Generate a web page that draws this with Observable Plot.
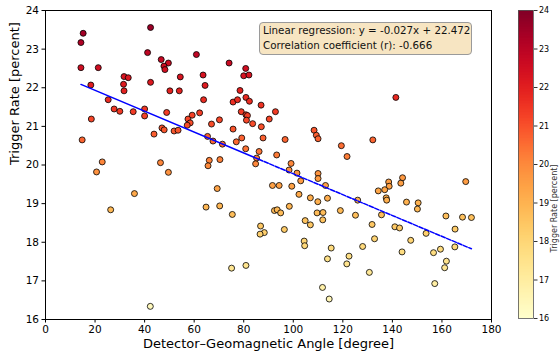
<!DOCTYPE html>
<html><head><meta charset="utf-8">
<script src="https://cdn.jsdelivr.net/npm/d3@7"></script>
<script src="https://cdn.jsdelivr.net/npm/@observablehq/plot@0.6"></script>
<style>
body{margin:0;background:#fff;font-family:"DejaVu Sans",sans-serif;}
#wrap{position:relative;width:560px;height:358px;overflow:hidden;}
#main{position:absolute;left:0;top:0;}
#cb{position:absolute;left:490px;top:0;}
#box{position:absolute;left:259px;top:22px;width:213px;height:33px;box-sizing:border-box;
 border:1px solid #9a9a9a;border-radius:4px;background:rgba(245,222,179,0.8);
 font-family:"DejaVu Sans",sans-serif;font-size:10.3px;line-height:15px;padding:0 0 0 3px;color:#111;white-space:nowrap;}
</style></head><body>
<div id="wrap"><div id="main"></div><div id="cb"></div><div id="box"></div></div>
<script>
const angle = [
15.2,14.3,42.4,41.2,60.9,46.7,49.6,47.8,48.2,14.3,
21.3,31.7,33.4,54.4,42.4,31.5,18.3,31.7,50.2,54.0,
25.3,27.7,30.0,35.4,40.0,40.0,48.9,18.5,57.5,59.2,
62.2,14.8,43.8,47.0,47.9,51.9,53.5,58.4,57.2,22.9,
20.6,46.4,49.6,35.9,26.3,42.3,74.1,80.8,80.0,82.1,
63.6,64.4,78.5,63.8,75.7,77.5,80.9,82.3,87.0,79.0,
80.9,81.5,92.8,70.2,81.1,90.3,67.0,83.6,87.1,75.7,
79.2,77.0,65.4,67.6,71.4,87.8,96.7,108.4,109.3,110.0,
119.4,121.7,80.8,86.2,93.3,85.2,84.8,66.1,65.6,70.4,
99.1,98.3,101.5,103.0,110.0,110.0,113.0,91.6,94.3,99.4,
69.3,102.3,106.9,109.9,113.8,64.8,70.3,98.4,92.4,93.5,
94.9,75.4,109.6,112.0,119.0,111.9,104.8,106.9,86.8,88.3,
86.6,96.4,104.4,104.6,115.3,113.8,121.6,122.5,75.1,80.9,
111.8,114.5,141.4,132.1,144.1,138.5,138.7,143.4,136.9,134.3,
169.6,137.5,137.7,126.0,145.7,150.4,150.1,125.1,135.6,161.6,
168.3,171.9,131.8,141.0,142.9,165.3,153.6,132.8,128.0,147.4,
143.9,156.6,159.4,165.2,161.8,161.1,130.7,157.1];
const rate = [
23.41,23.17,23.56,22.91,22.86,22.73,22.64,22.56,22.47,22.52,
22.52,22.29,22.26,22.28,22.14,22.09,22.07,21.92,21.92,21.92,
21.69,21.45,21.39,21.38,21.45,21.27,21.36,21.19,21.19,21.29,
21.35,20.65,20.80,20.96,20.91,20.88,20.90,21.09,21.03,20.08,
19.82,20.06,19.81,19.26,18.84,16.34,22.64,22.50,22.31,22.33,
22.33,22.06,21.93,21.69,21.63,21.69,21.75,21.65,21.55,21.38,
21.30,21.28,21.38,21.17,21.16,21.19,21.06,21.07,20.99,20.93,
20.70,20.60,20.74,20.62,20.54,20.70,20.66,20.90,20.77,20.68,
20.50,20.22,20.42,20.35,20.26,20.18,20.03,20.12,19.98,20.14,
20.04,19.87,19.79,19.59,19.78,19.65,19.47,19.47,19.47,19.45,
19.39,19.24,19.15,19.05,19.14,18.91,18.94,18.93,18.82,18.84,
18.76,18.72,18.76,18.77,18.82,18.58,18.56,18.45,18.42,18.25,
18.21,18.33,18.03,17.91,17.85,17.57,17.44,17.64,17.33,17.40,
16.83,16.53,21.75,20.65,19.67,19.56,19.45,19.53,19.36,19.33,
19.57,19.15,19.09,19.09,19.04,19.02,18.86,18.70,18.71,18.68,
18.65,18.64,18.46,18.40,18.37,18.34,18.23,18.09,17.89,18.05,
17.75,17.73,17.82,17.88,17.51,17.34,17.22,16.93];
const slope = -0.027;
const intercept = 22.472;
const corr = -0.666;
const solidUntil = 86;
const xTicks = [0,20,40,60,80,100,120,140,160,180];
const yTicks = [16,17,18,19,20,21,22,23,24];
const xLabel = "Detector–Geomagnetic Angle [degree]";
const yLabel = "Trigger Rate [percent]";
const cbLabel = "Trigger Rate [percent]";
const boxLines = [
  `Linear regression: y = ${slope.toFixed(3)}x + ${intercept.toFixed(3)}`,
  `Correlation coefficient (r): ${corr.toFixed(3)}`
];

const data = angle.map((a,i)=>({angle:a, rate:rate[i]}));
const xmin = d3.min(angle), xmax = d3.max(angle);
const fit = x => intercept + slope*x;
const solidPart = [xmin, solidUntil].map(x=>({x, y:fit(x)}));
const dashedPart = [solidUntil, xmax].map(x=>({x, y:fit(x)}));

const main = Plot.plot({
  width:560, height:358, marginLeft:45, marginRight:69, marginTop:10, marginBottom:39,
  style:{fontFamily:"DejaVu Sans, sans-serif", color:"black", background:"white", overflow:"visible"},
  x:{domain:[0,180]},
  y:{domain:[16,24]},
  color:{type:"linear", scheme:"YlOrRd", domain:[16,24]},
  marks:[
    Plot.axisX({ticks:xTicks, tickSize:3.5, tickPadding:3, fontSize:10.5, label:null, stroke:"black"}),
    Plot.axisY({ticks:yTicks, tickSize:3.5, tickPadding:3, fontSize:10.5, label:null, stroke:"black"}),
    Plot.text([xLabel], {frameAnchor:"bottom", dy:28, fontSize:13, fill:"black"}),
    Plot.text([yLabel], {frameAnchor:"left", dx:-31, rotate:-90, fontSize:13, fill:"black"}),
    Plot.dot(data, {x:"angle", y:"rate", fill:"rate", stroke:"black", strokeWidth:0.8, r:3}),
    Plot.line(solidPart, {x:"x", y:"y", stroke:"blue", strokeWidth:1.5}),
    Plot.line(dashedPart, {x:"x", y:"y", stroke:"blue", strokeWidth:1.5, strokeDasharray:"4.5,1.5"}),
    Plot.frame({stroke:"black", strokeWidth:1})
  ]
});
document.getElementById("main").appendChild(main);

const step = 0.04;
const cbVals = d3.range(16, 24, step);
const cb = Plot.plot({
  width:70, height:358, marginLeft:28, marginRight:27, marginTop:10, marginBottom:40,
  style:{fontFamily:"DejaVu Sans, sans-serif", color:"black", background:"transparent", overflow:"visible"},
  x:{domain:[0,1], axis:null},
  y:{domain:[16,24]},
  color:{type:"linear", scheme:"YlOrRd", domain:[16,24]},
  marks:[
    Plot.rect(cbVals, {x1:0, x2:1, y1:d=>d, y2:d=>Math.min(24, d+step*1.6), fill:d=>d+step/2}),
    Plot.frame({stroke:"#555", strokeWidth:0.8}),
    Plot.axisY({anchor:"right", ticks:yTicks, tickSize:3.5, tickPadding:2, fontSize:8, label:null, stroke:"#333"}),
    Plot.text([cbLabel], {frameAnchor:"right", dx:21, rotate:-90, fontSize:8, fill:"#333"})
  ]
});
document.getElementById("cb").appendChild(cb);

const box = document.getElementById("box");
boxLines.forEach(t=>{const d=document.createElement("div"); d.textContent=t; box.appendChild(d);});
</script>
</body></html>
